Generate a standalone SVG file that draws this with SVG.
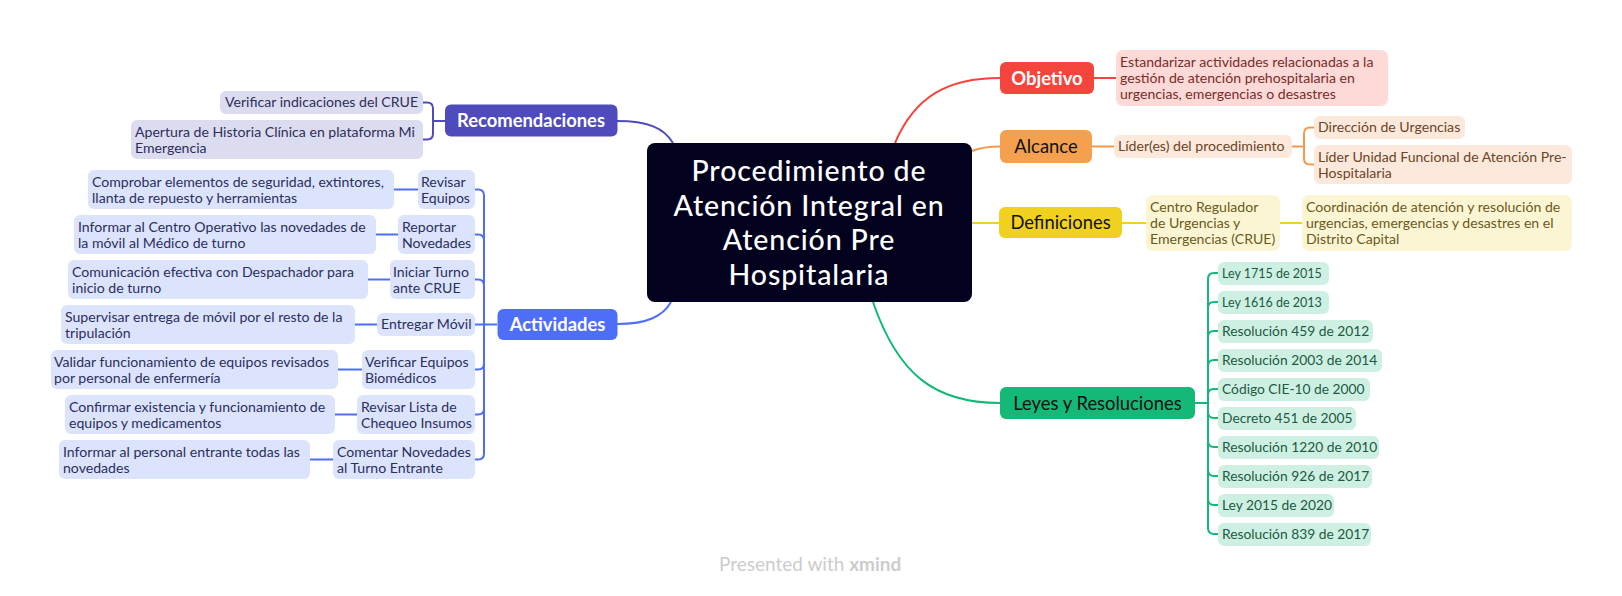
<svg xmlns="http://www.w3.org/2000/svg" width="1622" height="596" viewBox="0 0 1622 596">
<style>
text{font-family:Lato,"Open Sans","Liberation Sans",sans-serif;}
.t{font-size:14.1px;}
.lb{fill:#dce3fc;} .lbt{fill:#2a2f5c;}
.lv{fill:#dcdcf0;} .lvt{fill:#2e2e5a;}
.main{font-size:18.4px;}
.wb{fill:#fff;font-weight:bold;}
.cb{stroke:#4f6ef7;stroke-width:2;fill:none;}
.cr{stroke:#4f4bbd;stroke-width:2;fill:none;}
.cg{stroke:#14b877;stroke-width:2;fill:none;}
.co{stroke:#f4994a;stroke-width:2;fill:none;}
.cy{stroke:#f1d11f;stroke-width:2;fill:none;}
.cred{stroke:#f4453c;stroke-width:2;fill:none;}
.law{fill:#cdf0e2;} .lawt{fill:#1d5a42;font-size:13.8px;}
.ctr{fill:#fff;font-size:28.5px;letter-spacing:0.9px;font-weight:500;}
</style>
<rect width="1622" height="596" fill="#fff"/>

<g id="connectors">
  <path class="cr" d="M617,121 C648,121 664,128 673,143"/>
  <path class="cb" d="M617,324 C648,324 663,316 671,302"/>
  <path class="cred" d="M895,143 C915,96 948,78 1000,78"/>
  <path class="co" d="M972,151 C982,147 990,146.5 1000,146.5"/>
  <path class="cy" d="M972,223 L999,223"/>
  <path class="cg" d="M873,302 C898,375 935,403 1000,403"/>
  <path class="cr" d="M445,121 L433,121"/>
  <path class="cr" d="M423,102.5 L427,102.5 Q433,102.5 433,108.5 L433,133.5 Q433,139.5 427,139.5 L423,139.5"/>
  <path class="cb" d="M497,324.5 L475,324.5"/>
  <path class="cb" d="M475,189.5 L478,189.5 Q484,189.5 484,195.5 L484,453.5 Q484,459.5 478,459.5 L475,459.5"/>
  <path class="cb" d="M475,234.5 L478,234.5 Q484,234.5 484,240.5"/>
  <path class="cb" d="M475,279.5 L478,279.5 Q484,279.5 484,285.5"/>
  <path class="cb" d="M475,369.5 L478,369.5 Q484,369.5 484,363.5"/>
  <path class="cb" d="M475,414.5 L478,414.5 Q484,414.5 484,408.5"/>
  <path class="cb" d="M394,189.5 L418,189.5 M376,234.5 L398,234.5 M368,279.5 L390,279.5 M355,324.5 L377,324.5 M338,369.5 L362,369.5 M335,414.5 L357,414.5 M310,459.5 L333,459.5"/>
  <path class="cred" d="M1094,78 L1116,78"/>
  <path class="co" d="M1092,146.5 L1114,146.5 M1292,146.5 L1304,146.5"/>
  <path class="co" d="M1314,127.5 L1310,127.5 Q1304,127.5 1304,133.5 L1304,158.5 Q1304,164.5 1310,164.5 L1314,164.5"/>
  <path class="cy" d="M1122,223 L1146,223 M1280,223 L1302,223"/>
  <path class="cg" d="M1195,403 L1208,403"/>
  <path class="cg" d="M1218,273 L1214,273 Q1208,273 1208,279 L1208,528 Q1208,534 1214,534 L1218,534"/>
  <path class="cg" d="M1218,302 L1214,302 Q1208,302 1208,308"/>
  <path class="cg" d="M1218,331 L1214,331 Q1208,331 1208,337"/>
  <path class="cg" d="M1218,360 L1214,360 Q1208,360 1208,366"/>
  <path class="cg" d="M1218,389 L1214,389 Q1208,389 1208,395"/>
  <path class="cg" d="M1218,418 L1214,418 Q1208,418 1208,412"/>
  <path class="cg" d="M1218,447 L1214,447 Q1208,447 1208,441"/>
  <path class="cg" d="M1218,476 L1214,476 Q1208,476 1208,470"/>
  <path class="cg" d="M1218,505 L1214,505 Q1208,505 1208,499"/>
</g>

<g id="central">
  <rect x="647" y="143" width="325" height="159" rx="8" fill="#02021f"/>
  <g class="ctr" text-anchor="middle">
    <text x="809" y="181">Procedimiento de</text>
    <text x="809" y="215.5">Atención Integral en</text>
    <text x="809" y="250">Atención Pre</text>
    <text x="809" y="284.5">Hospitalaria</text>
  </g>
</g>

<g id="recomendaciones">
  <rect x="445" y="104.5" width="172.5" height="32" rx="6" fill="#4f4bbd"/>
  <text class="main wb" x="531" y="127" text-anchor="middle">Recomendaciones</text>
</g>
<g id="rec-1">
  <rect class="lv" x="220" y="91" width="203" height="23" rx="6"/>
  <text class="t lvt" x="225" y="107">Verificar indicaciones del CRUE</text>
</g>
<g id="rec-2">
  <rect class="lv" x="131" y="120" width="292" height="39" rx="6"/>
  <text class="t lvt" x="135" y="137">Apertura de Historia Clínica en plataforma Mi</text>
  <text class="t lvt" x="135" y="153">Emergencia</text>
</g>

<g id="actividades">
  <rect x="497.5" y="309" width="120" height="31" rx="6" fill="#4f6ef7"/>
  <text class="main wb" x="557.5" y="331" text-anchor="middle">Actividades</text>
</g>

<g id="act-1">
  <rect class="lb" x="418" y="170" width="57" height="39" rx="6"/>
  <text class="t lbt" x="421" y="187">Revisar</text>
  <text class="t lbt" x="421" y="203">Equipos</text>
</g>
<g id="act-1-1">
  <rect class="lb" x="88" y="170" width="306" height="39" rx="6"/>
  <text class="t lbt" x="92" y="187">Comprobar elementos de seguridad, extintores,</text>
  <text class="t lbt" x="92" y="203">llanta de repuesto y herramientas</text>
</g>
<g id="act-2">
  <rect class="lb" x="398" y="215" width="77" height="39" rx="6"/>
  <text class="t lbt" x="402" y="232">Reportar</text>
  <text class="t lbt" x="402" y="248">Novedades</text>
</g>
<g id="act-2-1">
  <rect class="lb" x="74" y="215" width="302" height="39" rx="6"/>
  <text class="t lbt" x="78" y="232">Informar al Centro Operativo las novedades de</text>
  <text class="t lbt" x="78" y="248">la móvil al Médico de turno</text>
</g>
<g id="act-3">
  <rect class="lb" x="390" y="260" width="85" height="39" rx="6"/>
  <text class="t lbt" x="393" y="277">Iniciar Turno</text>
  <text class="t lbt" x="393" y="293">ante CRUE</text>
</g>
<g id="act-3-1">
  <rect class="lb" x="68" y="260" width="300" height="39" rx="6"/>
  <text class="t lbt" x="72" y="277">Comunicación efectiva con Despachador para</text>
  <text class="t lbt" x="72" y="293">inicio de turno</text>
</g>
<g id="act-4">
  <rect class="lb" x="377" y="313" width="98" height="23" rx="6"/>
  <text class="t lbt" x="381" y="329">Entregar Móvil</text>
</g>
<g id="act-4-1">
  <rect class="lb" x="61" y="305" width="294" height="39" rx="6"/>
  <text class="t lbt" x="65" y="322">Supervisar entrega de móvil por el resto de la</text>
  <text class="t lbt" x="65" y="338">tripulación</text>
</g>
<g id="act-5">
  <rect class="lb" x="362" y="350" width="113" height="39" rx="6"/>
  <text class="t lbt" x="365" y="367">Verificar Equipos</text>
  <text class="t lbt" x="365" y="383">Biomédicos</text>
</g>
<g id="act-5-1">
  <rect class="lb" x="51" y="350" width="287" height="39" rx="6"/>
  <text class="t lbt" x="54" y="367">Validar funcionamiento de equipos revisados</text>
  <text class="t lbt" x="54" y="383">por personal de enfermería</text>
</g>
<g id="act-6">
  <rect class="lb" x="357" y="395" width="118" height="39" rx="6"/>
  <text class="t lbt" x="361" y="412">Revisar Lista de</text>
  <text class="t lbt" x="361" y="428">Chequeo Insumos</text>
</g>
<g id="act-6-1">
  <rect class="lb" x="65" y="395" width="270" height="39" rx="6"/>
  <text class="t lbt" x="69" y="412">Confirmar existencia y funcionamiento de</text>
  <text class="t lbt" x="69" y="428">equipos y medicamentos</text>
</g>
<g id="act-7">
  <rect class="lb" x="333" y="440" width="142" height="39" rx="6"/>
  <text class="t lbt" x="337" y="457">Comentar Novedades</text>
  <text class="t lbt" x="337" y="473">al Turno Entrante</text>
</g>
<g id="act-7-1">
  <rect class="lb" x="59" y="440" width="251" height="39" rx="6"/>
  <text class="t lbt" x="63" y="457">Informar al personal entrante todas las</text>
  <text class="t lbt" x="63" y="473">novedades</text>
</g>

<g id="objetivo">
  <rect x="1000" y="62" width="94" height="32" rx="6" fill="#f4453c"/>
  <text class="main wb" x="1047" y="84.5" text-anchor="middle">Objetivo</text>
</g>
<g id="objetivo-1">
  <rect x="1116" y="50" width="272" height="56" rx="7" fill="#fdd9d7"/>
  <g class="t" fill="#7a2c27">
    <text x="1120" y="67">Estandarizar actividades relacionadas a la</text>
    <text x="1120" y="83">gestión de atención prehospitalaria en</text>
    <text x="1120" y="99">urgencias, emergencias o desastres</text>
  </g>
</g>

<g id="alcance">
  <rect x="1000" y="130" width="92" height="33" rx="6" fill="#f4a04e"/>
  <text class="main" x="1046" y="153" text-anchor="middle" fill="#111">Alcance</text>
</g>
<g id="alcance-1">
  <rect x="1114" y="135" width="178" height="23" rx="6" fill="#fde9dc"/>
  <text class="t" x="1118" y="151" fill="#6a4526">Líder(es) del procedimiento</text>
</g>
<g id="alcance-1-1">
  <rect x="1314" y="116" width="151" height="23" rx="6" fill="#fde9dc"/>
  <text class="t" x="1318" y="132" fill="#6a4526">Dirección de Urgencias</text>
</g>
<g id="alcance-1-2">
  <rect x="1314" y="145" width="258" height="39" rx="6" fill="#fde9dc"/>
  <text class="t" x="1318" y="162" fill="#6a4526">Líder Unidad Funcional de Atención Pre-</text>
  <text class="t" x="1318" y="178" fill="#6a4526">Hospitalaria</text>
</g>

<g id="definiciones">
  <rect x="999" y="207" width="123" height="31" rx="6" fill="#f1d11f"/>
  <text class="main" x="1060.5" y="229" text-anchor="middle" fill="#111">Definiciones</text>
</g>
<g id="def-1">
  <rect x="1146" y="195" width="134" height="56" rx="7" fill="#fcf5d3"/>
  <g class="t" fill="#6a5a1c">
    <text x="1150" y="212">Centro Regulador</text>
    <text x="1150" y="228">de Urgencias y</text>
    <text x="1150" y="244">Emergencias (CRUE)</text>
  </g>
</g>
<g id="def-1-1">
  <rect x="1302" y="195" width="270" height="56" rx="7" fill="#fcf5d3"/>
  <g class="t" fill="#6a5a1c">
    <text x="1306" y="212">Coordinación de atención y resolución de</text>
    <text x="1306" y="228">urgencias, emergencias y desastres en el</text>
    <text x="1306" y="244">Distrito Capital</text>
  </g>
</g>

<g id="leyes">
  <rect x="1000" y="387" width="195" height="32" rx="6" fill="#14b877"/>
  <text class="main" x="1097.5" y="409.5" text-anchor="middle" fill="#111">Leyes y Resoluciones</text>
</g>
<g id="ley-1"><rect class="law" x="1218" y="262" width="111" height="23" rx="6"/><text class="lawt" x="1222" y="278" style="font-size:12.5px">Ley 1715 de 2015</text></g>
<g id="ley-2"><rect class="law" x="1218" y="291" width="111" height="23" rx="6"/><text class="lawt" x="1222" y="307" style="font-size:12.5px">Ley 1616 de 2013</text></g>
<g id="ley-3"><rect class="law" x="1218" y="320" width="155" height="23" rx="6"/><text class="lawt" x="1222" y="336">Resolución 459 de 2012</text></g>
<g id="ley-4"><rect class="law" x="1218" y="349" width="164" height="23" rx="6"/><text class="lawt" x="1222" y="365">Resolución 2003 de 2014</text></g>
<g id="ley-5"><rect class="law" x="1218" y="378" width="152" height="23" rx="6"/><text class="lawt" x="1222" y="394">Código CIE-10 de 2000</text></g>
<g id="ley-6"><rect class="law" x="1218" y="407" width="138" height="23" rx="6"/><text class="lawt" x="1222" y="423">Decreto 451 de 2005</text></g>
<g id="ley-7"><rect class="law" x="1218" y="436" width="161" height="23" rx="6"/><text class="lawt" x="1222" y="452">Resolución 1220 de 2010</text></g>
<g id="ley-8"><rect class="law" x="1218" y="465" width="154" height="23" rx="6"/><text class="lawt" x="1222" y="481">Resolución 926 de 2017</text></g>
<g id="ley-9"><rect class="law" x="1218" y="494" width="116" height="23" rx="6"/><text class="lawt" x="1222" y="510">Ley 2015 de 2020</text></g>
<g id="ley-10"><rect class="law" x="1218" y="523" width="153" height="23" rx="6"/><text class="lawt" x="1222" y="539">Resolución 839 de 2017</text></g>

<text x="719" y="571" font-size="19" fill="#cccccc">Presented with <tspan font-weight="bold">xmind</tspan></text>
</svg>
